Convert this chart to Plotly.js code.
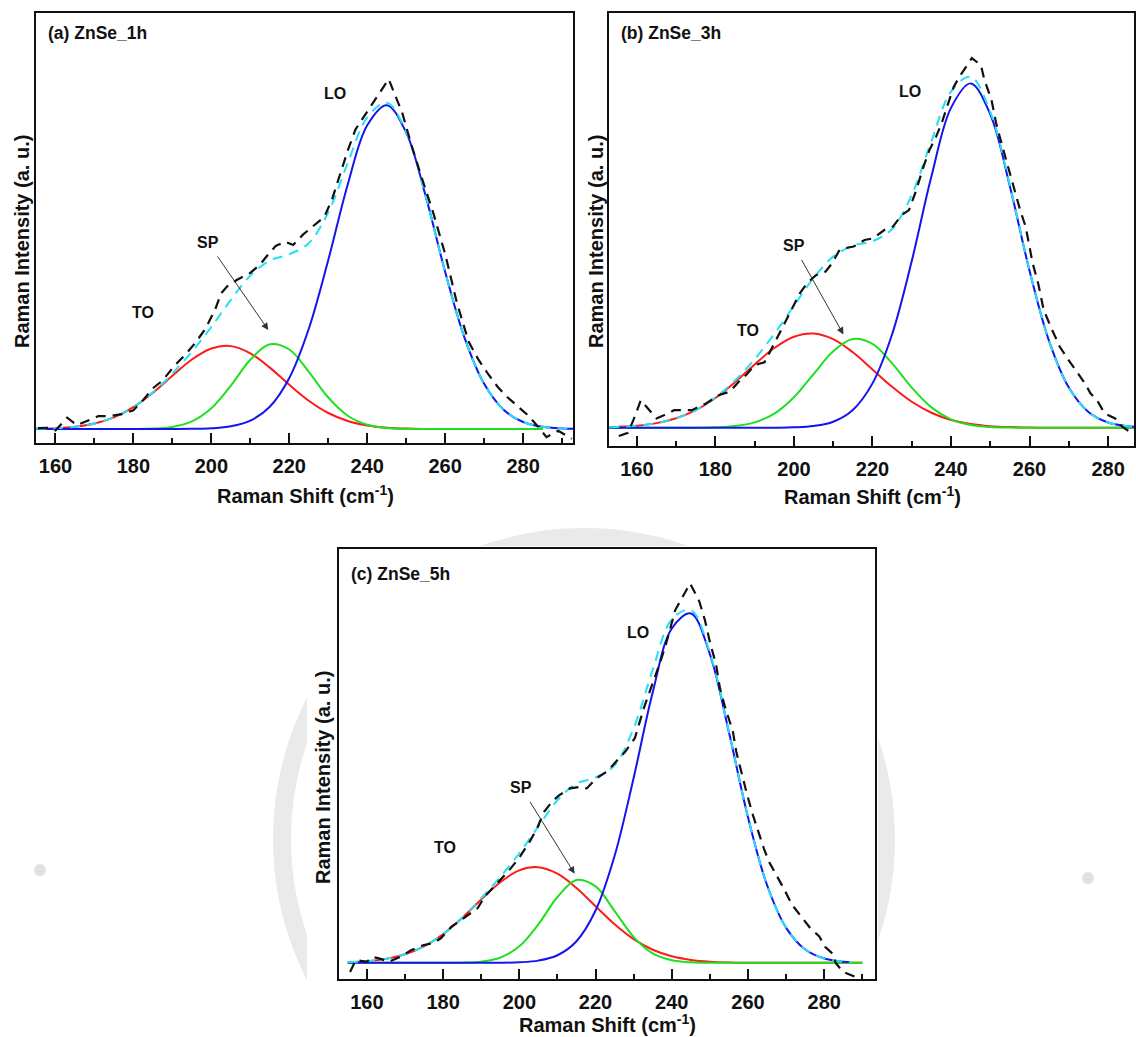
<!DOCTYPE html>
<html>
<head>
<meta charset="utf-8">
<script src="https://cdn.plot.ly/plotly-3.0.1.min.js"></script>
<style>
  html, body { margin: 0; padding: 0; background: #ffffff; }
  #chart { width: 1136px; height: 1037px; }
</style>
</head>
<body>
<div id="chart"></div>
<script>
// ---------- Panel (a) ZnSe_1h ----------
const xA_comp = [155,160,165,170,175,180,185,190,195,200,205,210,215,220,225,230,235,240,245,250,255,260,265,270,275,280,285];
const toA = [0.0009,0.0027,0.0073,0.0173,0.0362,0.0676,0.1119,0.1645,0.2147,0.2488,0.2560,0.2338,0.1897,0.1366,0.0874,0.0496,0.0250,0.0112,0.0044,0.0016,0.0005,0.0001,0,0,0,0,0];
const spA = [0,0,0,0,0,0.0002,0.0014,0.0067,0.0237,0.0643,0.1340,0.2138,0.2616,0.2455,0.1766,0.0974,0.0412,0.0133,0.0033,0.0006,0.0001,0,0,0,0,0,0];
const xA_full = [155,160,165,170,175,180,185,190,195,200,205,210,215,220,225,230,235,240,245,250,255,260,265,270,275,280,285,290,293];
const loA = [0,0,0,0,0,0,0,0.0001,0.0006,0.0023,0.0084,0.0259,0.0690,0.1577,0.3097,0.5218,0.7549,0.9375,0.9995,0.9149,0.7189,0.4850,0.2808,0.1396,0.0596,0.0218,0.0069,0.0019,0.0008];
const fitA = [0.0009,0.0027,0.0073,0.0173,0.0362,0.0678,0.1133,0.1713,0.2390,0.3154,0.3984,0.4735,0.5203,0.5398,0.5737,0.6688,0.8211,0.9620,1.0072,0.9171,0.7195,0.4851,0.2808,0.1396,0.0596,0.0218,0.0069,0.0019,0.0008];
const dataXA = [155.5,158,160,163,165.5,168,171,174,177,180,182.5,185,187.5,190.5,193.5,196,198.5,201,202.5,204,206.5,210,212.5,214.5,216.5,219,221,223.5,226,229,231,233,235,237,240.5,245.5,249,251.5,254,257,260,263,266,268.5,271,273.5,276,278.5,281,283.5,286,289,292.5];
const dataYA = [0.003,0.004,-0.004,0.035,0.012,0.024,0.040,0.040,0.046,0.058,0.090,0.126,0.150,0.195,0.232,0.268,0.310,0.370,0.419,0.440,0.460,0.482,0.508,0.538,0.565,0.578,0.568,0.600,0.625,0.655,0.710,0.785,0.860,0.925,0.990,1.080,0.975,0.870,0.775,0.665,0.540,0.390,0.270,0.215,0.170,0.130,0.098,0.072,0.045,0.012,-0.025,-0.005,-0.030];

// ---------- Panel (b) ZnSe_3h ----------
const xB_comp = [153,155,160,165,170,175,180,185,190,195,200,205,210,215,220,225,230,235,240,245,250,255,260,265,270,275,280,285,286.6];
const toB = [0.0016,0.0024,0.0059,0.0134,0.0275,0.0512,0.0865,0.1324,0.1838,0.2314,0.2643,0.2737,0.2571,0.2191,0.1693,0.1187,0.0754,0.0435,0.0227,0.0108,0.0046,0.0018,0.0006,0.0002,0,0,0,0,0];
const spB = [0,0,0,0,0,0.0002,0.0012,0.0048,0.0155,0.0411,0.0887,0.1557,0.2221,0.2577,0.2432,0.1867,0.1166,0.0592,0.0245,0.0082,0.0022,0.0005,0.0001,0,0,0,0,0,0];
const loB = [0,0,0,0,0,0,0,0,0,0.0002,0.0012,0.0050,0.0175,0.0517,0.1288,0.2715,0.4839,0.7290,0.9285,0.9997,0.9100,0.7002,0.4555,0.2505,0.1165,0.0458,0.0152,0.0043,0.0027];
const fitB = [0.0016,0.0024,0.0059,0.0134,0.0275,0.0514,0.0877,0.1372,0.1993,0.2727,0.3542,0.4344,0.4967,0.5285,0.5413,0.5769,0.6759,0.8317,0.9757,1.0187,0.9168,0.7025,0.4562,0.2507,0.1165,0.0458,0.0152,0.0043,0.0027];
const dataXB = [155.4,157.7,159.1,161,163.2,165,167,169.5,174,177.5,181,183.7,186,188,190,192.5,195,197,199.7,201.5,203.3,205.6,208,209.7,211.6,213,215.2,218,220.2,223,225.2,227.5,229.3,231,233,234.5,236.2,237.6,239,240.7,242.2,245.3,247.6,248.5,250.3,251.5,253,254.5,256,257.6,259,260.8,262.2,263.6,265.4,267.7,269.9,271.8,274.1,275.5,277.2,279.1,281.8,283.6,286];
const dataYB = [-0.024,-0.015,0.022,0.080,0.051,0.027,0.037,0.051,0.051,0.070,0.095,0.105,0.134,0.155,0.182,0.190,0.245,0.290,0.351,0.390,0.419,0.443,0.453,0.477,0.516,0.521,0.526,0.545,0.550,0.574,0.584,0.618,0.632,0.685,0.758,0.806,0.845,0.884,0.932,0.990,1.020,1.073,1.053,1.010,0.952,0.884,0.820,0.758,0.700,0.632,0.584,0.477,0.419,0.342,0.293,0.235,0.197,0.167,0.129,0.100,0.080,0.042,0.027,0.003,-0.016];

// ---------- Panel (c) ZnSe_5h ----------
const xC_comp = [155,160,165,170,175,180,185,190,195,200,205,210,215,220,225,230,235,240,245,250,255,260,265,270,275,280,285,290];
const toC = [0.0018,0.0048,0.0113,0.0243,0.0469,0.0815,0.1278,0.1805,0.2298,0.2636,0.2725,0.2539,0.2132,0.1613,0.1100,0.0676,0.0374,0.0187,0.0084,0.0034,0.0012,0.0004,0.0001,0,0,0,0,0];
const spC = [0,0,0,0,0,0.0001,0.0006,0.0034,0.0149,0.0471,0.1097,0.1877,0.2359,0.2177,0.1476,0.0734,0.0268,0.0072,0.0014,0.0002,0,0,0,0,0,0,0,0];
const xC_full = [155,160,165,170,175,180,185,190,195,200,205,210,215,220,225,230,235,240,245,250,255,260,265,270,275,280,285,287];
const loC = [0,0,0,0,0,0,0,0,0.0003,0.0016,0.0064,0.0216,0.0617,0.1491,0.3051,0.5275,0.7710,0.9527,0.9952,0.8789,0.6561,0.4142,0.2210,0.0997,0.0380,0.0123,0.0033,0.0019];
const fitC = [0.0018,0.0048,0.0113,0.0243,0.0469,0.0816,0.1284,0.1839,0.2450,0.3123,0.3886,0.4632,0.5108,0.5281,0.5627,0.6685,0.8352,0.9786,1.0050,0.8825,0.6573,0.4146,0.2211,0.0997,0.0380,0.0123,0.0033,0.0019];
const dataXC = [155.6,157.1,160,161.5,163.4,165.8,168.7,171.6,175,177.4,179.4,182.3,184.2,187.1,189.1,191,194,196.8,199.7,202.6,204.6,206.5,208.5,210.4,213.3,215.7,217.7,220.1,223,225.4,227.8,230.3,232.7,234.1,235.6,237.1,238.5,240.9,244.8,247.2,248.7,250.1,251.6,252.6,254,256,256.9,258.4,259.8,261.3,262.7,264.2,265.6,267.6,269.5,271.5,273.9,276.3,278.7,280.2,282.1,283.1,285,287.9,289.9];
const dataYC = [-0.026,0.008,0.003,0.017,0.012,0.003,0.017,0.036,0.051,0.056,0.070,0.104,0.118,0.142,0.156,0.190,0.225,0.257,0.295,0.343,0.382,0.430,0.458,0.477,0.497,0.501,0.497,0.525,0.545,0.573,0.602,0.640,0.727,0.770,0.813,0.861,0.909,1.005,1.081,1.030,0.976,0.909,0.851,0.784,0.727,0.660,0.602,0.535,0.477,0.420,0.372,0.324,0.286,0.247,0.209,0.166,0.132,0.099,0.075,0.046,0.027,-0.002,-0.026,-0.040,-0.048];

// ---------- labels ----------
const panelLabels = ['(a) ZnSe_1h', '(b) ZnSe_3h', '(c) ZnSe_5h'];
const peakNames = ['TO', 'SP', 'LO'];
const xTitle = 'Raman Shift (cm<sup>-1</sup>)';
const yTitle = 'Raman Intensity (a. u.)';

const W = 1136, H = 1037;
const px = v => v / W;
const py = v => 1 - v / H;

const FONT = 'Liberation Sans, Arial, Helvetica, sans-serif';
const RED = '#ff1a1a', GREEN = '#1fe01f', BLUE = '#1414ee', CYAN = '#22e0f5', BLACK = '#111111';
const DASH = '10px,7px';

function panelTraces(ax, xc, to, sp, xf, lo, fit, dx, dy) {
  const xa = 'x' + (ax === 1 ? '' : ax), ya = 'y' + (ax === 1 ? '' : ax);
  const base = { type: 'scatter', mode: 'lines', xaxis: xa, yaxis: ya, hoverinfo: 'skip', showlegend: false };
  return [
    Object.assign({}, base, { x: xc, y: to, line: { color: RED, width: 2, shape: 'spline', smoothing: 1 } }),
    Object.assign({}, base, { x: xc, y: sp, line: { color: GREEN, width: 2, shape: 'spline', smoothing: 1 } }),
    Object.assign({}, base, { x: xf, y: lo, line: { color: BLUE, width: 2, shape: 'spline', smoothing: 1 } }),
    Object.assign({}, base, { x: xf, y: fit, line: { color: CYAN, width: 2, shape: 'spline', smoothing: 1, dash: DASH } }),
    Object.assign({}, base, { x: dx, y: dy, line: { color: BLACK, width: 2.2, dash: DASH } })
  ];
}

const data = [].concat(
  panelTraces(1, xA_comp, toA, spA, xA_full, loA, fitA, dataXA, dataYA),
  panelTraces(2, xB_comp, toB, spB, xB_comp, loB, fitB, dataXB, dataYB),
  panelTraces(3, xC_comp, toC, spC, xC_full, loC, fitC, dataXC, dataYC)
);

function xAxis(domain, range, anchor, lblStand) {
  return {
    domain: domain, range: range, anchor: anchor,
    showline: true, mirror: true, linecolor: BLACK, linewidth: 2,
    showgrid: false, zeroline: false,
    tickmode: 'linear', tick0: 0, dtick: 20,
    ticks: 'inside', ticklen: 10, tickwidth: 2, tickcolor: BLACK,
    minor: { ticks: 'inside', ticklen: 5, tickwidth: 2, tickcolor: BLACK, tickmode: 'linear', tick0: 0, dtick: 10, showgrid: false },
    tickfont: { family: FONT, size: 20, color: BLACK, weight: 'bold' },
    ticklabelstandoff: lblStand
  };
}
function yAxis(domain, range, anchor) {
  return {
    domain: domain, range: range, anchor: anchor,
    showline: true, mirror: true, linecolor: BLACK, linewidth: 2,
    showgrid: false, zeroline: false, ticks: '', showticklabels: false
  };
}

const lblFont = { family: FONT, size: 16, color: BLACK, weight: 'bold' };
function peakAnn(xr, yr, toPos, spPos, spHead, loPos) {
  return [
    { xref: xr, yref: yr, x: toPos[0], y: toPos[1], text: peakNames[0], showarrow: false, font: lblFont },
    { xref: xr, yref: yr, axref: xr, ayref: yr, x: spHead[0], y: spHead[1], ax: spPos[0], ay: spPos[1],
      text: peakNames[1], showarrow: true, arrowhead: 2, arrowsize: 1.4, arrowwidth: 1, arrowcolor: '#333333',
      startstandoff: 5, font: lblFont },
    { xref: xr, yref: yr, x: loPos[0], y: loPos[1], text: peakNames[2], showarrow: false, font: lblFont }
  ];
}
const titleFont = { family: FONT, size: 20, color: BLACK, weight: 'bold' };
const panelFont = { family: FONT, size: 17.5, color: BLACK, weight: 'bold' };

function xTitleAnn(cx, bottomY) {
  return { xref: 'paper', yref: 'paper', x: px(cx), y: py(bottomY), xanchor: 'center', yanchor: 'bottom', text: xTitle, showarrow: false, font: titleFont };
}
function yTitleAnn(cx, cy) {
  return { xref: 'paper', yref: 'paper', x: px(cx), y: py(cy), xanchor: 'center', yanchor: 'middle', textangle: -90, text: yTitle, showarrow: false, font: titleFont };
}

const annotations = [].concat(
  peakAnn('x', 'y', [182.5, 0.36], [199.1, 0.576], [214.6, 0.306], [231.8, 1.037]),
  peakAnn('x2', 'y2', [188.3, 0.281], [199.9, 0.529], [212.6, 0.271], [229.5, 0.975]),
  peakAnn('x3', 'y3', [180.6, 0.329], [200.5, 0.499], [214.5, 0.254], [231.1, 0.942]),
  [
    { xref: 'paper', yref: 'paper', x: px(46), y: py(33), xanchor: 'left', yanchor: 'middle', text: panelLabels[0], showarrow: false, font: panelFont },
    { xref: 'paper', yref: 'paper', x: px(619), y: py(33), xanchor: 'left', yanchor: 'middle', text: panelLabels[1], showarrow: false, font: panelFont },
    { xref: 'paper', yref: 'paper', x: px(349), y: py(574), xanchor: 'left', yanchor: 'middle', text: panelLabels[2], showarrow: false, font: panelFont },
    yTitleAnn(22, 242), yTitleAnn(596, 242), yTitleAnn(323, 778),
    xTitleAnn(305, 509), xTitleAnn(872, 510), xTitleAnn(607, 1038)
  ]
);

const shapes = [
  // faint watermark ring and dots
  { type: 'circle', xref: 'paper', yref: 'paper', x0: px(282), x1: px(886), y0: py(1141), y1: py(537), line: { color: '#eaeaea', width: 18 }, layer: 'below' },
  { type: 'circle', xref: 'paper', yref: 'paper', x0: px(34), x1: px(46), y0: py(876), y1: py(864), fillcolor: '#e0e0e0', line: { width: 0 }, layer: 'below' },
  { type: 'circle', xref: 'paper', yref: 'paper', x0: px(1082), x1: px(1094), y0: py(884), y1: py(872), fillcolor: '#e0e0e0', line: { width: 0 }, layer: 'below' },
  // white card behind panel (c)
  { type: 'rect', xref: 'paper', yref: 'paper', x0: px(307), x1: px(878), y0: py(1037), y1: py(546), fillcolor: '#ffffff', line: { width: 0 }, layer: 'below' }
];

const layout = {
  width: W, height: H,
  margin: { l: 0, r: 0, t: 0, b: 0 },
  paper_bgcolor: '#ffffff', plot_bgcolor: '#ffffff',
  showlegend: false,
  xaxis: xAxis([px(36), px(573)], [155.0, 292.8], 'y', 4),
  yaxis: yAxis([py(443), py(12.7)], [-0.043, 1.285], 'x'),
  xaxis2: xAxis([px(609), px(1134)], [152.9, 286.6], 'y2', 4),
  yaxis2: yAxis([py(446), py(13)], [-0.053, 1.204], 'x2'),
  xaxis3: xAxis([px(339), px(875)], [152.7, 293.3], 'y3', 4),
  yaxis3: yAxis([py(979), py(549)], [-0.046, 1.179], 'x3'),
  annotations: annotations,
  shapes: shapes
};

Plotly.newPlot('chart', data, layout, { displayModeBar: false, staticPlot: true });
</script>
</body>
</html>
